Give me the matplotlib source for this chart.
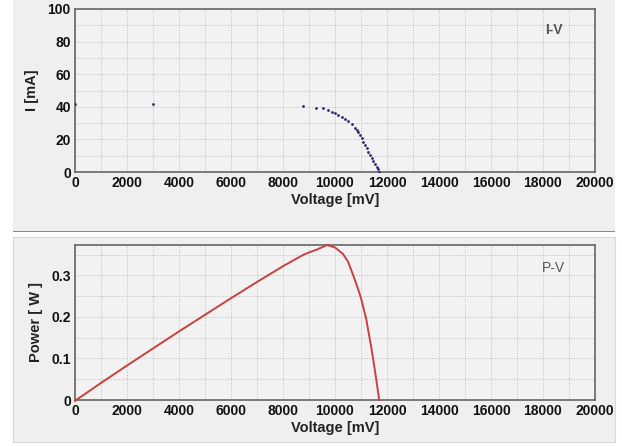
import matplotlib
matplotlib.use("Agg")
import matplotlib.pyplot as plt
from matplotlib.patches import Rectangle
from matplotlib.ticker import MultipleLocator

plt.rcParams['font.family'] = ['Liberation Sans', 'DejaVu Sans']

# I-V data (mV, mA)
iv_voltage = [0, 3000, 8780, 9260, 9530, 9740, 9870, 10000, 10130, 10260, 10390,
              10510, 10640, 10770, 10850, 10900, 10960, 11030, 11090, 11150, 11220,
              11280, 11350, 11410, 11480, 11540, 11600, 11650, 11700]
iv_current = [42, 41.5, 40.5, 39.3, 39.1, 38.0, 37.0, 36.0, 35.2, 33.9, 32.7,
              31.3, 29.4, 27.2, 25.8, 24.3, 22.5, 20.7, 18.7, 16.6, 14.5,
              12.5, 10.5, 8.4, 6.6, 4.9, 3.2, 1.6, 0.0]

# P-V data (mV, W)
pv_voltage = [0, 1000, 2000, 3000, 4000, 5000, 6000, 7000, 8000, 8800, 9000,
              9300, 9700, 10000, 10300, 10500, 10700, 10900, 11000, 11200,
              11400, 11550, 11700]
pv_power = [-0.002, 0.041, 0.083, 0.124, 0.165, 0.205, 0.245, 0.284, 0.322, 0.350, 0.355,
            0.362, 0.373, 0.367, 0.352, 0.333, 0.300, 0.265, 0.245, 0.195,
            0.125, 0.065, 0.0]

x_ticks = [0, 2000, 4000, 6000, 8000, 10000, 12000, 14000, 16000, 18000, 20000]
iv_yticks = [0, 20, 40, 60, 80, 100]
pv_yticks = [0, 0.1, 0.2, 0.3]

W, H = 622, 446
fig = plt.figure(figsize=(W / 100, H / 100), dpi=100)
fig.patch.set_facecolor('white')

panel_col = '#efefef'
# panels
fig.add_artist(Rectangle((13 / W, 1 - 232 / H), (615 - 13) / W, 232 / H,
                         transform=fig.transFigure, facecolor=panel_col,
                         edgecolor='none', zorder=0))
fig.add_artist(Rectangle((13 / W, 1 - 232 / H), (615 - 13) / W, 1.2 / H,
                         transform=fig.transFigure, facecolor='#8a8a8a',
                         edgecolor='none', zorder=0))
fig.add_artist(Rectangle((13 / W, 1 - 442 / H), (615 - 13) / W, (442 - 237) / H,
                         transform=fig.transFigure, facecolor=panel_col,
                         edgecolor='#d8d8d8', lw=0.8, zorder=0))

def style(ax):
    ax.set_facecolor('#f2f2f2')
    for s in ax.spines.values():
        s.set_color('#666666')
        s.set_linewidth(1.2)
    ax.set_xlim(0, 20000)
    ax.set_xticks(x_ticks)
    ax.xaxis.set_minor_locator(MultipleLocator(1000))
    ax.grid(which='both', color='#c2c2c2', linestyle=(0, (1.2, 1.6)), linewidth=0.7)
    ax.tick_params(which='both', length=0, labelsize=10, pad=3, colors='#111111')
    for lab in ax.get_xticklabels() + ax.get_yticklabels():
        lab.set_fontweight('bold')
    ax.set_xlabel('Voltage [mV]', fontsize=10.5, fontweight='bold', labelpad=2, color='#222222')
    ax.set_axisbelow(True)

ax1 = fig.add_axes([75 / W, 1 - 172 / H, 520 / W, 163 / H])
ax1.scatter(iv_voltage, iv_current, s=4, color='#2a2a6e', zorder=3, linewidths=0)
ax1.set_ylim(0, 100)
ax1.set_yticks(iv_yticks)
ax1.yaxis.set_minor_locator(MultipleLocator(10))
style(ax1)
ax1.set_ylabel('I [mA]', fontsize=10.5, fontweight='bold', labelpad=6, color='#222222')
ax1.text(0.92, 0.87, 'I-V', transform=ax1.transAxes, fontsize=10, color='#555555',
         fontweight='bold', ha='center', va='center')

ax2 = fig.add_axes([75 / W, 1 - 400 / H, 520 / W, 155 / H])
ax2.plot(pv_voltage, pv_power, color='#c84040', lw=1.4, zorder=3, clip_on=False)
ax2.set_ylim(0, 0.373)
ax2.set_yticks(pv_yticks)
ax2.set_yticklabels(['0', '0.1', '0.2', '0.3'])
ax2.yaxis.set_minor_locator(MultipleLocator(0.05))
style(ax2)
ax2.set_ylabel('Power [ W ]', fontsize=10.5, fontweight='bold', labelpad=6, color='#222222')
ax2.text(0.92, 0.85, 'P-V', transform=ax2.transAxes, fontsize=10, color='#555555',
         ha='center', va='center')

fig.savefig('out.png', dpi=100, facecolor=fig.get_facecolor())
